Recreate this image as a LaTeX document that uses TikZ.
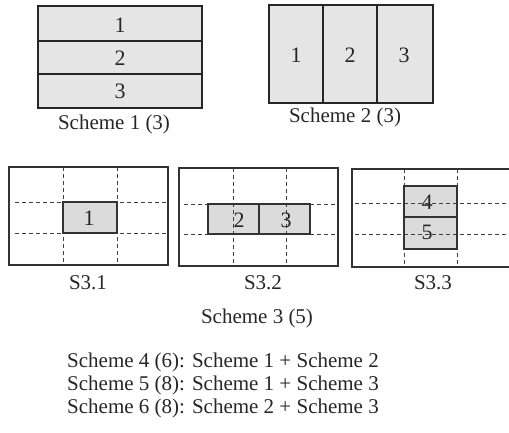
\documentclass[tikz,border=0pt]{standalone}
\usepackage{fontspec}
\setmainfont{Liberation Serif}
\begin{document}
\begin{tikzpicture}[x=1pt,y=-1pt,
  thickbox/.style={draw=black!85, line width=2.2pt, fill=black!10},
  thinbox/.style={draw=black!80, line width=1.3pt},
  cell/.style={draw=black!80, line width=1.2pt, fill=black!14},
  grid/.style={draw=black!75, line width=0.9pt, dash pattern=on 4pt off 3pt},
  lbl/.style={font=\fontsize{21}{24}\selectfont, inner sep=0pt, text=black!85},
  num/.style={font=\fontsize{22}{24}\selectfont, inner sep=0pt, text=black!85}]
\useasboundingbox (0,0) rectangle (509,433);

% Scheme 1
\draw[thickbox] (38,6) rectangle (202,108);
\draw[draw=black!85, line width=2pt] (38,41) -- (202,41) (38,74) -- (202,74);
\node[num] (s1a) at (120,25) {1};
\node[num] (s1b) at (120,58) {2};
\node[num] (s1c) at (120,91) {3};
\node[lbl] (s1) at (114,124) {Scheme 1 (3)};

% Scheme 2
\draw[thickbox] (269,5) rectangle (433,103);
\draw[draw=black!85, line width=2pt] (323,5) -- (323,103) (377,5) -- (377,103);
\node[num] (s2a) at (296,55) {1};
\node[num] (s2b) at (350,55) {2};
\node[num] (s2c) at (404,55) {3};
\node[lbl] (s2) at (345,117) {Scheme 2 (3)};

% S3.1
\fill[black!14] (63,202) rectangle (117,233);
\draw[grid] (15,202) -- (168,202) (15,233) -- (168,233);
\draw[grid] (63,167) -- (63,265) (117,167) -- (117,265);
\draw[cell, fill=none] (63,202) rectangle (117,233);
\draw[thinbox] (9,167) rectangle (168,265);
\node[num] (c1) at (89,218) {1};
\node[lbl] (s31) at (88,283) {S3.1};

% S3.2
\fill[black!14] (208,204) rectangle (310,234);
\draw[grid] (184,204) -- (338,204) (184,234) -- (338,234);
\draw[grid] (233,168) -- (233,266) (286,168) -- (286,266);
\draw[cell, fill=none] (208,204) rectangle (310,234) (259,204) -- (259,234);
\draw[thinbox] (179,168) rectangle (338,266);
\node[num] (c2) at (239,220) {2};
\node[num] (c3) at (286,220) {3};
\node[lbl] (s32) at (263,283) {S3.2};

% S3.3
\fill[black!14] (404,186) rectangle (457,249);
\draw[grid] (355,203) -- (509,203) (355,234) -- (509,234);
\draw[grid] (404,169) -- (404,267) (457,169) -- (457,267);
\draw[cell, fill=none] (404,186) rectangle (457,249) (404,217) -- (457,217);
\draw[thinbox] (515,169) -- (352,169) -- (352,267) -- (515,267);
\node[num] (c4) at (427,202) {4};
\node[num] (c5) at (427,232) {5};
\node[lbl] (s33) at (433,283) {S3.3};

% captions
\node[lbl] (s3) at (257,318) {Scheme 3 (5)};
\node[lbl, anchor=west] (l4) at (67,362) {Scheme 4 (6): Scheme 1 + Scheme 2};
\node[lbl, anchor=west] (l5) at (67,385) {Scheme 5 (8): Scheme 1 + Scheme 3};
\node[lbl, anchor=west] (l6) at (67,408) {Scheme 6 (8): Scheme 2 + Scheme 3};
\end{tikzpicture}
\end{document}
